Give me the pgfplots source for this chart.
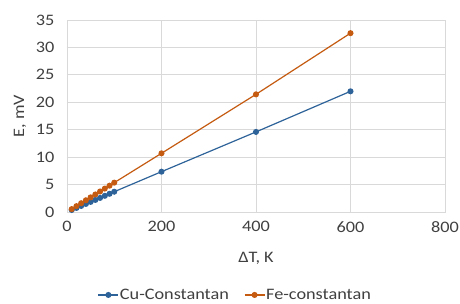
\documentclass[border=0pt]{standalone}
\usepackage{pgfplots}
\pgfplotsset{compat=1.18}
\usepackage{fontspec}
\setmainfont{Carlito}[FakeStretch=1.14]
\definecolor{cublue}{RGB}{46,99,153}
\definecolor{feorange}{RGB}{197,90,17}
\definecolor{gridgray}{RGB}{217,217,217}
\definecolor{txt}{RGB}{64,64,64}
\begin{document}
\begin{tikzpicture}[x=1pt,y=1pt]
\begin{axis}[
  anchor=south west,
  scale only axis, width=378pt, height=192pt,
  xmin=0, xmax=800, ymin=0, ymax=35,
  xtick={0,200,...,800}, ytick={0,5,...,35},
  grid=major,
  major grid style={gridgray, line width=0.8pt},
  axis line style={gridgray, line width=0.8pt},
  tick style={draw=none},
  ticklabel style={font=\fontsize{16}{18}\selectfont, text=txt},
  xticklabel style={yshift=-6pt},
  yticklabel style={xshift=-9pt},
  /pgf/number format/assume math mode=true,
  xlabel={ΔT, K}, ylabel={E, mV},
  label style={font=\fontsize{16}{18}\selectfont, text=txt},
  xlabel style={at={(axis description cs:0.5,-0.24)}, anchor=center},
  ylabel style={at={(axis description cs:-0.124,0.5)}, anchor=center},
  legend style={at={(0.444,-0.432)}, anchor=center, draw=none, legend columns=2,
    font=\fontsize{16}{18}\selectfont, text=txt, fill=none,
    /tikz/every even column/.append style={column sep=14pt},
    nodes={inner xsep=1pt}},
  legend image code/.code={\draw[#1] (0pt,0pt) -- (20pt,0pt); \draw[#1,mark repeat=1] plot coordinates {(10pt,0pt)};},
]
\addplot[cublue, line width=1.2pt, mark=*, mark size=2.4pt] coordinates {
(10,0.37)(20,0.74)(30,1.10)(40,1.47)(50,1.84)(60,2.20)(70,2.57)(80,2.95)(90,3.32)(100,3.70)
(200,7.35)(400,14.6)(600,22.0)};
\addlegendentry{Cu-Constantan}
\addplot[feorange, line width=1.2pt, mark=*, mark size=2.4pt] coordinates {
(10,0.53)(20,1.07)(30,1.60)(40,2.14)(50,2.67)(60,3.20)(70,3.74)(80,4.27)(90,4.80)(100,5.35)
(200,10.7)(400,21.45)(600,32.6)};
\addlegendentry{Fe-constantan}
\end{axis}
\pgfresetboundingbox
\useasboundingbox (-67,-91) rectangle (393,212);
\end{tikzpicture}
\end{document}
